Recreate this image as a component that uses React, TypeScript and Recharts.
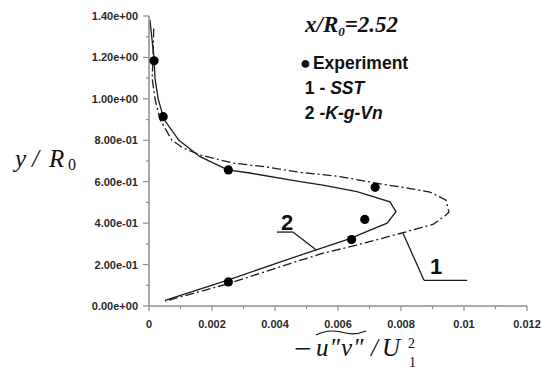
import {
  ComposedChart, Line, Scatter, XAxis, YAxis, ReferenceLine,
} from 'recharts'

// experiment points
const expX = [0.00016, 0.00045, 0.00252, 0.00718, 0.00685, 0.00643, 0.00252]
const expY = [1.184, 0.914, 0.657, 0.573, 0.418, 0.321, 0.116]

// curve 1 - SST (dash-dot)
const sstX = [
  0.00015, 0.00013, 0.0001, 0.00019, 0.00035, 0.00073, 0.00108, 0.00162, 0.00267,
  0.00375, 0.0047, 0.00606, 0.00717, 0.00829, 0.00892, 0.00943, 0.00952, 0.0094,
  0.00903, 0.00797, 0.00659, 0.00553, 0.00448, 0.0025, 0.00051,
]
const sstY = [
  1.34, 1.2, 1.1, 1.0, 0.9, 0.8, 0.763, 0.729, 0.69,
  0.671, 0.647, 0.625, 0.594, 0.567, 0.55, 0.511, 0.453, 0.436,
  0.395, 0.35, 0.294, 0.255, 0.205, 0.107, 0.023,
]

// curve 2 - K-g-Vn (solid)
const kgvX = [
  0.00003, 0.0001, 0.00016, 0.00019, 0.00029, 0.00048, 0.00095, 0.00162, 0.0025,
  0.0032, 0.0048, 0.00552, 0.0066, 0.00765, 0.00784, 0.00756, 0.00702, 0.00638,
  0.00448, 0.0025, 0.00051,
]
const kgvY = [
  1.38, 1.28, 1.2, 1.1, 1.0, 0.9, 0.8, 0.721, 0.657,
  0.642, 0.6, 0.584, 0.552, 0.503, 0.455, 0.4, 0.366, 0.325,
  0.229, 0.125, 0.027,
]

const xTicks = [0, 0.001, 0.002, 0.003, 0.004, 0.005, 0.006, 0.007, 0.008, 0.009, 0.01, 0.011, 0.012]
const yTicks = [0, 0.1, 0.2, 0.3, 0.4, 0.5, 0.6, 0.7, 0.8, 0.9, 1.0, 1.1, 1.2, 1.3, 1.4]

const expData = expX.map((x, i) => ({ x, y: expY[i] }))
const sstData = sstX.map((x, i) => ({ x, y: sstY[i] }))
const kgvData = kgvX.map((x, i) => ({ x, y: kgvY[i] }))

const AXIS = '#8c8c8c'
const INK = '#1c1c1c'
const tickFont = { fontFamily: '"Liberation Sans", Arial, sans-serif', fontWeight: 700, fontSize: 11, fill: '#2a2a2a' }

function sci(v: number) {
  return v.toExponential(2).replace(/e([+-])(\d)$/, 'e$10$2')
}

function YTick(props: any) {
  const { x, y, payload } = props
  const major = Math.round(payload.value * 10) % 2 === 0
  return (
    <g>
      <line x1={x - (major ? 6 : 3)} x2={x} y1={y} y2={y} stroke={AXIS} strokeWidth={1.2} />
      {major && (
        <text x={x - 11} y={y} dy={4} textAnchor="end" style={tickFont}>{sci(payload.value)}</text>
      )}
    </g>
  )
}

function XTick(props: any) {
  const { x, y, payload } = props
  const major = Math.round(payload.value * 1000) % 2 === 0
  return (
    <g>
      <line x1={x} x2={x} y1={y} y2={y + (major ? 5 : 3)} stroke={AXIS} strokeWidth={1.2} />
      {major && (
        <text x={x} y={y + 22} textAnchor="middle" style={tickFont}>{String(payload.value)}</text>
      )}
    </g>
  )
}

const serif = '"Liberation Serif", "Times New Roman", serif'
const sans = '"Liberation Sans", Arial, sans-serif'

const abs = (left: number, top: number, font: string, extra: any = {}) => ({
  position: 'absolute' as const, left, top, font, color: '#111', whiteSpace: 'nowrap' as const, lineHeight: 1, ...extra,
})

export default function App() {
  return (
    <div style={{ position: 'absolute', left: 0, top: 0, width: 541, height: 371, background: '#fff' }}>
      <ComposedChart width={541} height={371} margin={{ top: 16, right: 14, bottom: 64, left: 0 }}>
        <XAxis
          type="number" dataKey="x" domain={[0, 0.012]} ticks={xTicks} interval={0} height={1}
          axisLine={{ stroke: AXIS, strokeWidth: 1.5 }} tickLine={false} tickSize={0} tickMargin={0}
          tick={<XTick />} allowDataOverflow
        />
        <YAxis
          type="number" dataKey="y" domain={[0, 1.4]} ticks={yTicks} interval={0} width={149}
          axisLine={{ stroke: AXIS, strokeWidth: 1.5 }} tickLine={false} tickSize={0} tickMargin={0}
          tick={<YTick />} allowDataOverflow
        />
        <Line data={sstData} dataKey="y" type="linear" stroke={INK} strokeWidth={1.3}
          strokeDasharray="9 3 2 3" dot={false} isAnimationActive={false} />
        <Line data={kgvData} dataKey="y" type="linear" stroke={INK} strokeWidth={1.3}
          dot={false} isAnimationActive={false} />
        <Scatter data={expData} dataKey="y" fill="#000" isAnimationActive={false}
          shape={(p: any) => <circle cx={p.cx} cy={p.cy} r={4.6} fill="#000" />} />
        <ReferenceLine segment={[{ x: 0.00406, y: 0.357 }, { x: 0.00457, y: 0.357 }]} stroke={INK} strokeWidth={1.3} ifOverflow="visible" />
        <ReferenceLine segment={[{ x: 0.00457, y: 0.357 }, { x: 0.00532, y: 0.269 }]} stroke={INK} strokeWidth={1.3} ifOverflow="visible" />
        <ReferenceLine segment={[{ x: 0.00806, y: 0.352 }, { x: 0.00873, y: 0.124 }]} stroke={INK} strokeWidth={1.3} ifOverflow="visible" />
        <ReferenceLine segment={[{ x: 0.00873, y: 0.124 }, { x: 0.0101, y: 0.124 }]} stroke={INK} strokeWidth={1.3} ifOverflow="visible" />
      </ComposedChart>

      {/* curve labels */}
      <div style={abs(281, 212, `bold 22px ${sans}`)}>2</div>
      <div style={abs(430, 256, `bold 22px ${sans}`)}>1</div>

      {/* title + legend */}
      <div style={abs(305, 13, `italic bold 23px ${serif}`)}>
        x/R<span style={{ fontSize: 13, position: 'relative', top: 4 }}>0</span>=2.52
      </div>
      <div style={abs(300, 51, `bold 17.5px ${sans}`, { lineHeight: '25px' })}>
        <div><span style={{ fontSize: 18, marginRight: 2 }}>●</span>Experiment</div>
        <div>&nbsp;1 - <i>SST</i></div>
        <div>&nbsp;2 -<i>K-g-Vn</i></div>
      </div>

      {/* y axis title */}
      <div style={abs(15, 146, `italic 25px ${serif}`)}>y</div>
      <div style={abs(32, 146, `italic 25px ${serif}`)}>/</div>
      <div style={abs(49, 146, `italic 25px ${serif}`)}>R</div>
      <div style={abs(68, 157, `16px ${serif}`)}>0</div>

      {/* x axis title */}
      <div style={abs(294, 333, `31px ${serif}`)}>−</div>
      <div style={abs(316, 335, `italic 25px ${serif}`, { letterSpacing: 1 })}>u″v″</div>
      <div style={abs(371, 335, `italic 25px ${serif}`)}>/</div>
      <div style={abs(382, 335, `italic 25px ${serif}`)}>U</div>
      <div style={abs(408, 337, `14px ${serif}`)}>2</div>
      <div style={abs(409, 356, `14px ${serif}`)}>1</div>
      <svg style={{ position: 'absolute', left: 314, top: 328 }} width={54} height={10}>
        <path d="M2 7 Q 14 1 27 4 Q 40 8 52 3" fill="none" stroke="#111" strokeWidth={1.2} />
      </svg>
    </div>
  )
}
